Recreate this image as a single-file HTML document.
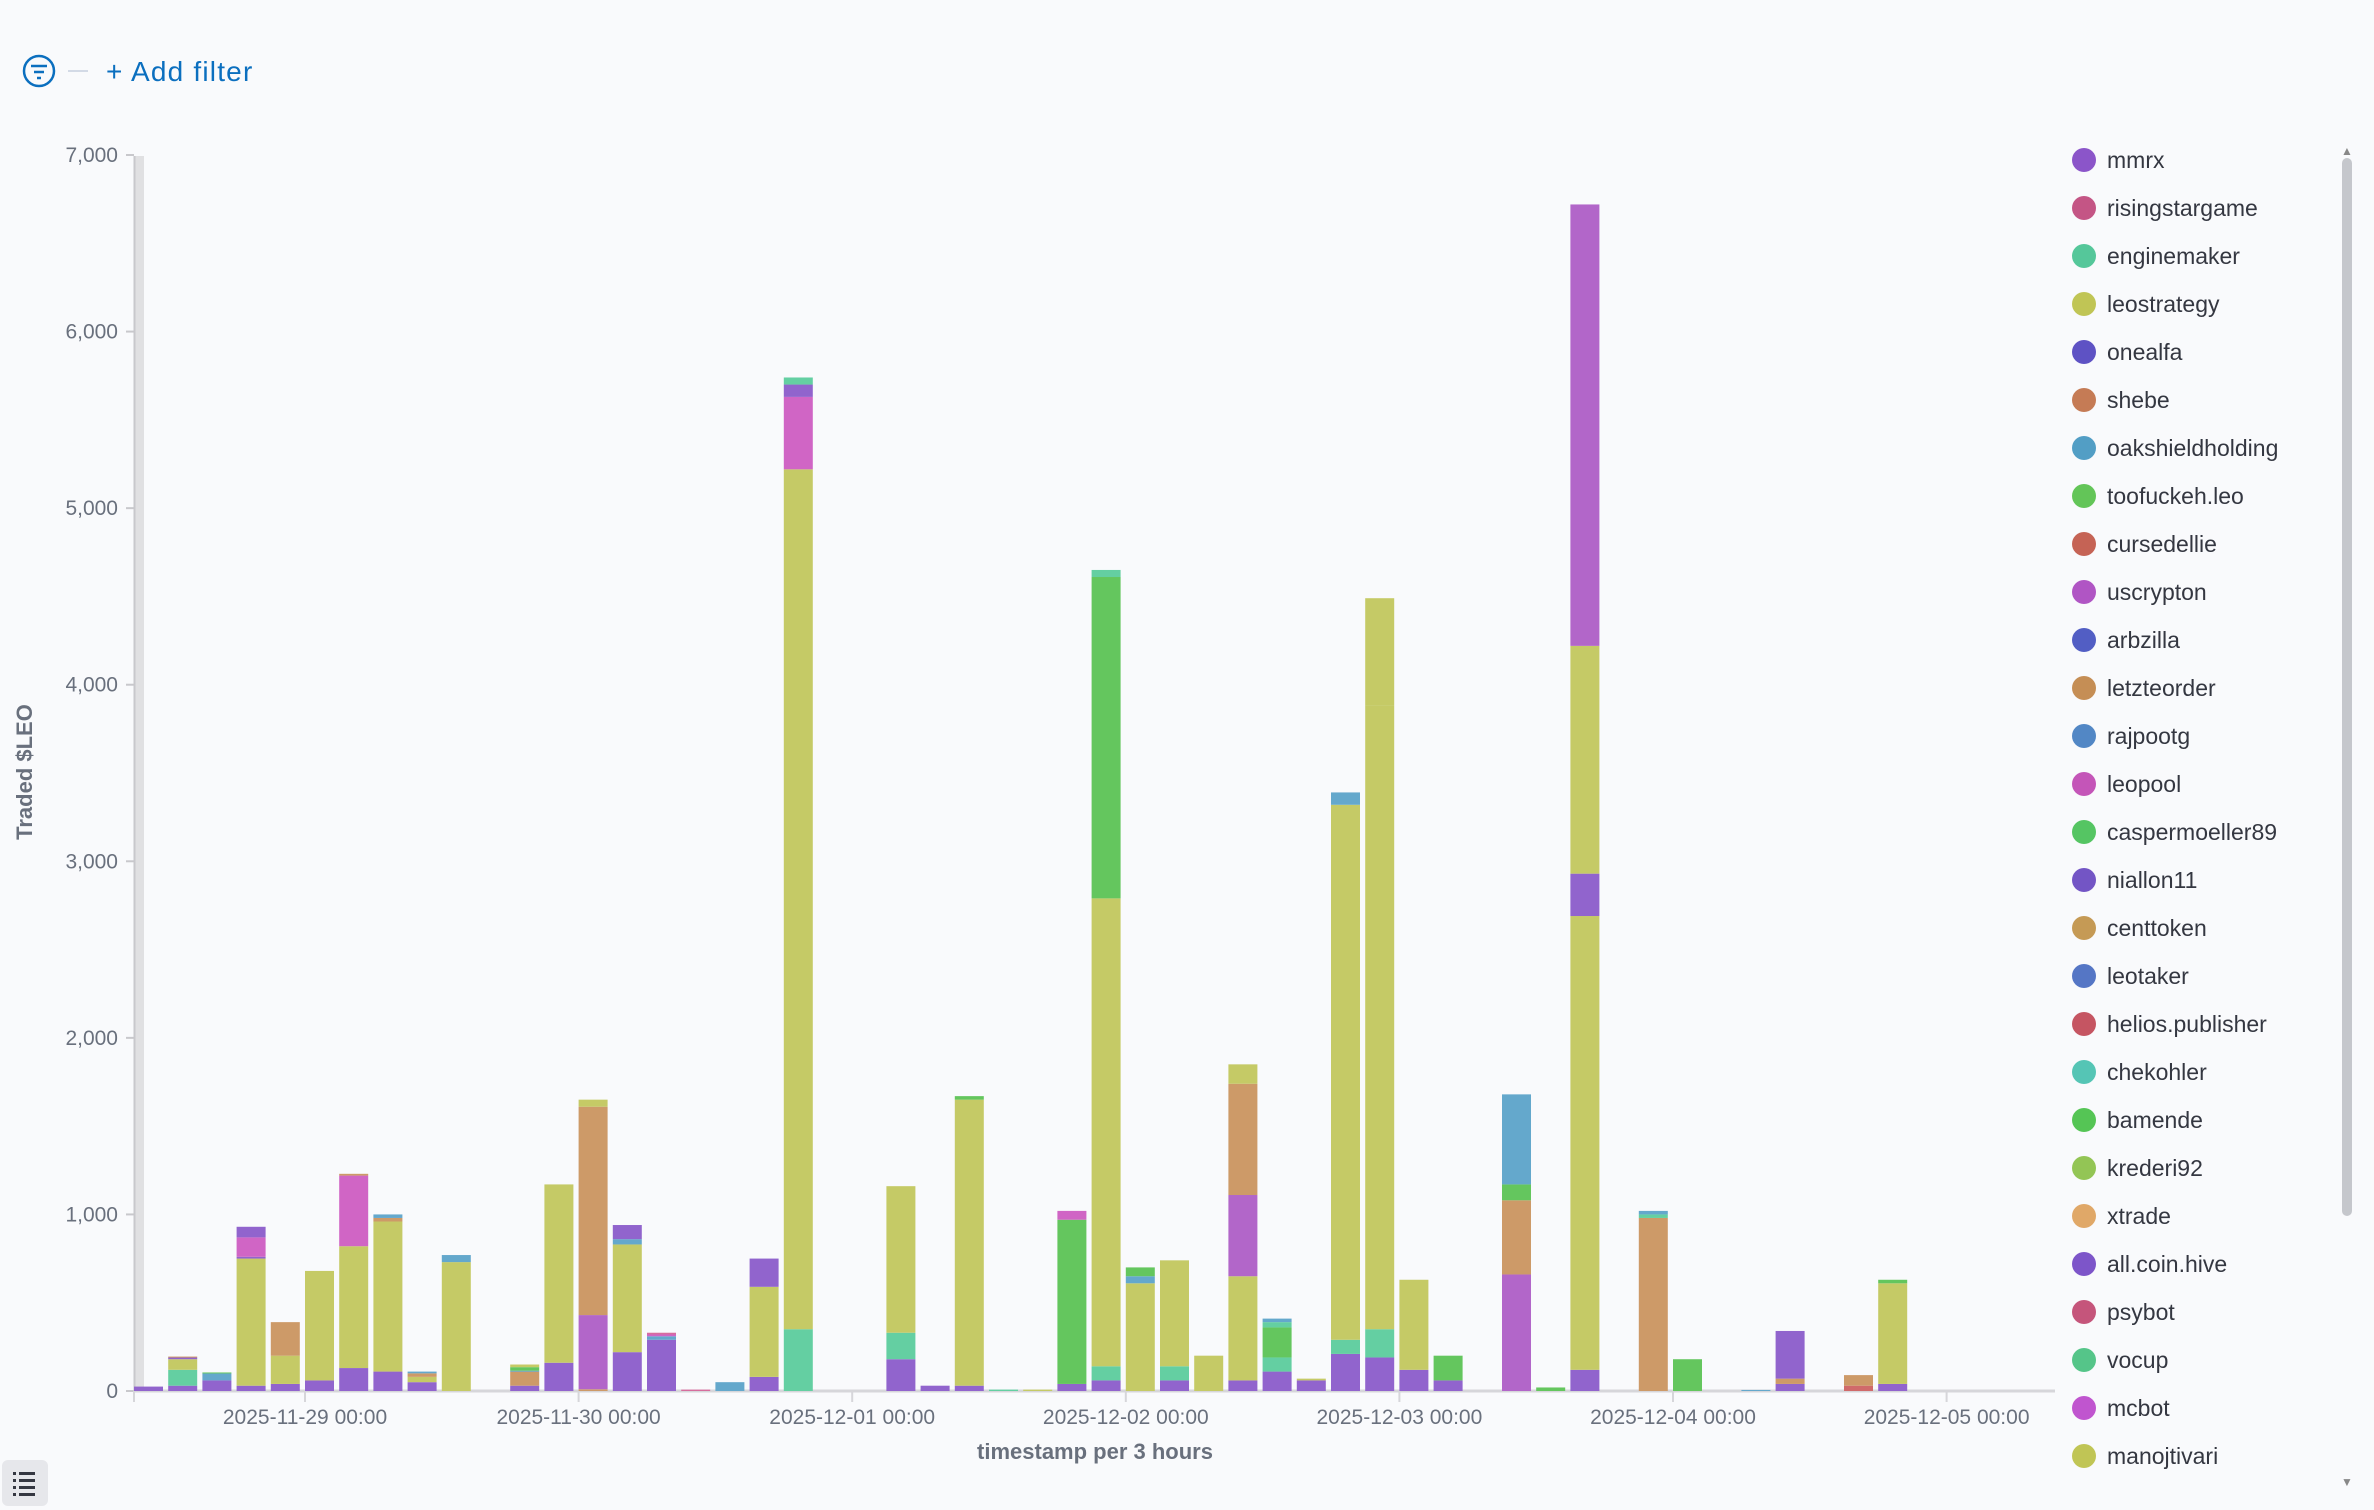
<!DOCTYPE html>
<html><head><meta charset="utf-8"><style>
html,body{margin:0;padding:0;background:#f9fafc;width:2374px;height:1510px;overflow:hidden;font-family:"Liberation Sans",sans-serif}
</style></head><body>
<svg id="s" width="2374" height="1510" xmlns="http://www.w3.org/2000/svg" style="position:absolute;left:0;top:0">
<circle cx="39" cy="71" r="15" fill="none" stroke="#0b6fbf" stroke-width="2.5"/>
<line x1="31" y1="66" x2="47" y2="66" stroke="#0b6fbf" stroke-width="2.5"/>
<line x1="34" y1="72" x2="44" y2="72" stroke="#0b6fbf" stroke-width="2.5"/>
<line x1="37" y1="78" x2="41" y2="78" stroke="#0b6fbf" stroke-width="2.5"/>
<line x1="68" y1="71" x2="88" y2="71" stroke="#d3dae6" stroke-width="2"/>
<text x="106" y="81" font-size="28" letter-spacing="1.2" fill="#0b6fbf">+ Add filter</text>
<rect x="134" y="156" width="10" height="1235" fill="#e0e0e2"/>
<line x1="134.5" y1="156" x2="134.5" y2="1391" stroke="#c8c8cc" stroke-width="2"/>
<line x1="134" y1="1391" x2="2055" y2="1391" stroke="#d6d6da" stroke-width="3"/>
<text transform="translate(32,772) rotate(-90)" text-anchor="middle" font-size="22" font-weight="bold" fill="#69707d">Traded $LEO</text>
<text x="1095" y="1459" text-anchor="middle" font-size="22" font-weight="bold" fill="#69707d">timestamp per 3 hours</text>
<rect x="2" y="1460" width="46" height="46" rx="6" fill="#e6e7eb"/>
<g fill="#343741"><rect x="13" y="1472" width="3" height="3"/><rect x="19" y="1472" width="16" height="3"/><rect x="13" y="1479" width="3" height="3"/><rect x="19" y="1479" width="16" height="3"/><rect x="13" y="1486" width="3" height="3"/><rect x="19" y="1486" width="16" height="3"/><rect x="13" y="1493" width="3" height="3"/><rect x="19" y="1493" width="16" height="3"/></g>
<rect x="2342" y="158" width="10" height="1058" rx="5" fill="#c5c7cc"/>
<text x="2347" y="155" font-size="12" text-anchor="middle" fill="#888">▲</text>
<text x="2347" y="1486" font-size="12" text-anchor="middle" fill="#888">▼</text>
<g id="g"></g>
</svg>
<script>
const g=document.getElementById('g');const NS='http://www.w3.org/2000/svg';
function el(t,a,txt){const e=document.createElementNS(NS,t);for(const k in a)e.setAttribute(k,a[k]);if(txt!==undefined)e.textContent=txt;g.appendChild(e);return e;}
const Y0=1391,K=0.17657;
for(let v=0;v<=7000;v+=1000){const y=Y0-v*K;el('line',{x1:126,y1:y,x2:134,y2:y,stroke:'#c8c8cc','stroke-width':2});
el('text',{x:118,y:y+7,'text-anchor':'end','font-size':21,fill:'#69707d'},v===0?'0':v.toLocaleString('en-US'));}
const days=['2025-11-29 00:00','2025-11-30 00:00','2025-12-01 00:00','2025-12-02 00:00','2025-12-03 00:00','2025-12-04 00:00','2025-12-05 00:00'];
days.forEach((d,i)=>{const x=305+i*273.6;el('line',{x1:x,y1:1391,x2:x,y2:1402,stroke:'#d6d6da','stroke-width':2});
el('text',{x:x,y:1424,'text-anchor':'middle','font-size':21,fill:'#69707d'},d);});
el('line',{x1:134,y1:1391,x2:134,y2:1402,stroke:'#d6d6da','stroke-width':2});
const C={p:'#9164cd',t:'#64cfa2',y:'#c5ca66',b:'#cd9a68',bl:'#64a8cc',g:'#64c65e',u:'#b266c9',pk:'#d065c5',r:'#d06a6a',ra:'#d66d9d'};
const B=[
[['p',25]],
[['p',30],['t',90],['y',60],['p',10],['b',5]],
[['p',60],['bl',40],['g',5]],
[['p',30],['y',720],['p',10],['pk',110],['p',60]],
[['p',40],['y',160],['b',190]],
[['p',60],['y',620]],
[['p',130],['y',690],['pk',400],['b',10]],
[['p',110],['y',850],['b',20],['bl',20]],
[['p',50],['y',30],['b',20],['bl',10]],
[['y',730],['bl',40]],
[],
[['p',30],['b',80],['bl',5],['g',20],['y',15]],
[['p',160],['y',1010]],
[['b',10],['u',420],['b',1180],['y',40]],
[['p',220],['y',610],['bl',30],['p',80]],
[['p',290],['bl',20],['pk',10],['ra',10]],
[['ra',8]],
[['bl',50]],
[['p',80],['y',510],['p',160]],
[['t',350],['y',4870],['pk',410],['p',70],['t',40]],
[],[],
[['p',180],['t',150],['y',830]],
[['p',30]],
[['p',30],['y',1620],['g',20]],
[['t',8]],[['y',8]],
[['p',40],['g',930],['pk',50]],
[['p',60],['t',80],['y',2650],['g',1820],['t',40]],
[['y',610],['bl',40],['g',50]],
[['p',60],['t',80],['y',600]],
[['y',200]],
[['p',60],['y',590],['u',460],['b',630],['y',110]],
[['p',110],['t',80],['g',170],['t',30],['bl',20]],
[['p',60],['y',10]],
[['p',210],['t',80],['y',3030],['bl',70]],
[['p',190],['t',160],['y',3530],['y',610]],
[['p',120],['y',510]],
[['p',60],['g',140]],
[],
[['u',660],['b',420],['g',90],['bl',510]],
[['g',20]],
[['p',120],['y',2570],['p',240],['y',1290],['u',2500]],
[],
[['b',980],['t',20],['bl',20]],
[['g',180]],
[],[['bl',6]],
[['p',40],['b',30],['p',270]],
[],
[['r',30],['b',60]],
[['p',40],['y',570],['g',20]]
];
B.forEach((s,i)=>{let x=134+34.2*i,y=Y0;s.forEach(([c,v])=>{const h=v*K;y-=h;el('rect',{x:x,y:y,width:29,height:Math.max(h,1),fill:C[c]});});});
const L=[['mmrx','#8b55c9'],['risingstargame','#c45585'],['enginemaker','#55c79a'],['leostrategy','#c0c555'],['onealfa','#5e52c4'],['shebe','#c57b55'],['oakshieldholding','#529ec5'],['toofuckeh.leo','#63c558'],['cursedellie','#c56355'],['uscrypton','#b055c4'],['arbzilla','#525ec4'],['letzteorder','#c58e55'],['rajpootg','#5287c5'],['leopool','#c455b8'],['caspermoeller89','#55c563'],['niallon11','#7355c5'],['centtoken','#c59a55'],['leotaker','#5576c5'],['helios.publisher','#c55562'],['chekohler','#55c5b5'],['bamende','#55c555'],['krederi92','#93c555'],['xtrade','#e0a868'],['all.coin.hive','#7d55c9'],['psybot','#c5557b'],['vocup','#55c589'],['mcbot','#c055cf'],['manojtivari','#c0c555']];
L.forEach(([n,c],i)=>{const y=160+48*i;el('circle',{cx:2084,cy:y,r:12,fill:c});el('text',{x:2107,y:y+8,'font-size':23,fill:'#343741'},n);});
</script>
</body></html>
